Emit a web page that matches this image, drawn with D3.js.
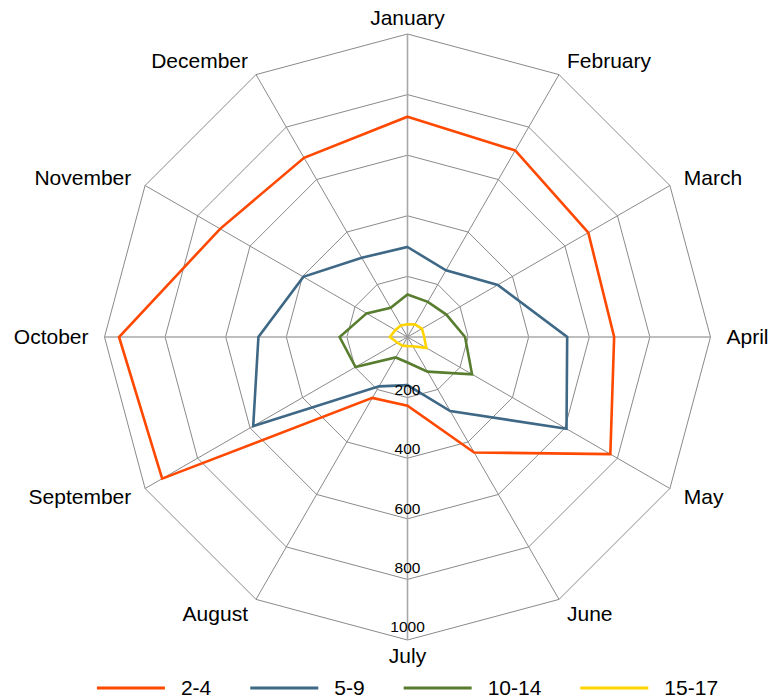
<!DOCTYPE html>
<html>
<head>
<meta charset="utf-8">
<script src="https://d3js.org/d3.v7.min.js"></script>
<style>
  body { margin: 0; background: #fff; }
</style>
</head>
<body>
<script>
// data
const months = ["January", "February", "March", "April", "May", "June",
    "July", "August", "September", "October", "November", "December"];
const seriesNames = ["2-4", "5-9", "10-14", "15-17"];
const values24 = [727, 711, 689, 682, 773, 440, 227, 232, 935, 952, 714, 683];
const values59 = [297, 254, 344, 527, 606, 282, 159, 188, 588, 492, 397, 302];
const values1014 = [140, 134, 148, 190, 246, 132, 84, 78, 198, 224, 156, 111];
const values1517 = [42, 48, 55, 55, 72, 35, 30, 33, 38, 58, 46, 44];
const ticks = [200, 400, 600, 800, 1000];
const colors = ["#ff4800", "#3e6886", "#587d2f", "#ffd400"];

const series = [values24, values59, values1014, values1517];

// create svg canvas
const canvWidth = 771, canvHeight = 700;
const svg = d3.select("body").append("svg")
    .attr("width", canvWidth)
    .attr("height", canvHeight)
    .style("font-family", "'Liberation Sans', Arial, Helvetica, sans-serif");

const cx = 407.5, cy = 337;
const radius = 303;

const g = svg.append("g")
    .attr("transform", "translate(" + cx + "," + cy + ")");

const rScale = d3.scaleLinear()
    .domain([0, 1000])
    .range([0, radius]);

// angle for each month, clockwise from the top
const angle = d3.scalePoint()
    .domain(months)
    .range([0, 2 * Math.PI * 11 / 12]);

const px = (m, v) => rScale(v) * Math.sin(angle(m));
const py = (m, v) => -rScale(v) * Math.cos(angle(m));

// grid rings
g.selectAll(".ring")
    .data(ticks)
    .enter().append("polygon")
    .attr("class", "ring")
    .attr("points", t => months.map(m => px(m, t) + "," + py(m, t)).join(" "))
    .attr("fill", "none")
    .attr("stroke", "#8a8a8a")
    .attr("stroke-width", 1);

// spokes
g.selectAll(".spoke")
    .data(months)
    .enter().append("line")
    .attr("class", "spoke")
    .attr("x1", 0).attr("y1", 0)
    .attr("x2", m => px(m, 1000))
    .attr("y2", m => py(m, 1000))
    .attr("stroke", (m, i) => i % 3 == 0 ? "#a8a8a8" : "#8a8a8a")
    .attr("stroke-width", (m, i) => i % 3 == 0 ? 1.6 : 1);

// series lines
const line = d3.line()
    .x((v, i) => px(months[i], v))
    .y((v, i) => py(months[i], v))
    .curve(d3.curveLinearClosed);

g.selectAll(".series")
    .data(series)
    .enter().append("path")
    .attr("class", "series")
    .attr("d", d => line(d))
    .attr("fill", "none")
    .attr("stroke", (d, i) => colors[i])
    .attr("stroke-width", 2.6)
    .attr("stroke-linejoin", "miter");

// tick labels down the July spoke
g.selectAll(".tick")
    .data(ticks)
    .enter().append("text")
    .attr("class", "tick")
    .attr("x", 0)
    .attr("y", t => rScale(t) - 1 - t / 140)
    .attr("text-anchor", "middle")
    .attr("font-size", "15.5px")
    .attr("fill", "#000")
    .text(t => t);

// month labels
const labelR = radius + 16;
g.selectAll(".month")
    .data(months)
    .enter().append("text")
    .attr("class", "month")
    .attr("x", m => labelR * Math.sin(angle(m)))
    .attr("y", m => -labelR * Math.cos(angle(m)))
    .attr("dy", "0.35em")
    .attr("text-anchor", m => {
        const s = Math.sin(angle(m));
        return Math.abs(s) < 0.1 ? "middle" : (s > 0 ? "start" : "end");
    })
    .attr("font-size", "21px")
    .attr("fill", "#000")
    .text(m => m);

// legend, centred under the chart
const legendY = 688;
const legend = svg.append("g");
const items = legend.selectAll("g")
    .data(seriesNames)
    .enter().append("g");

items.append("line")
    .attr("x1", 0).attr("x2", 68)
    .attr("y1", legendY).attr("y2", legendY)
    .attr("stroke", (d, i) => colors[i])
    .attr("stroke-width", 3);

items.append("text")
    .attr("x", 84)
    .attr("y", legendY)
    .attr("dy", "0.35em")
    .attr("font-size", "21px")
    .attr("fill", "#000")
    .text(d => d);

let xPos = 0;
items.each(function() {
    const w = 84 + this.querySelector("text").getComputedTextLength();
    d3.select(this).attr("transform", "translate(" + xPos + ",0)");
    xPos += w + 39;
});
const legendWidth = xPos - 39;
legend.attr("transform", "translate(" + (cx - legendWidth / 2) + ",0)");
</script>
</body>
</html>
